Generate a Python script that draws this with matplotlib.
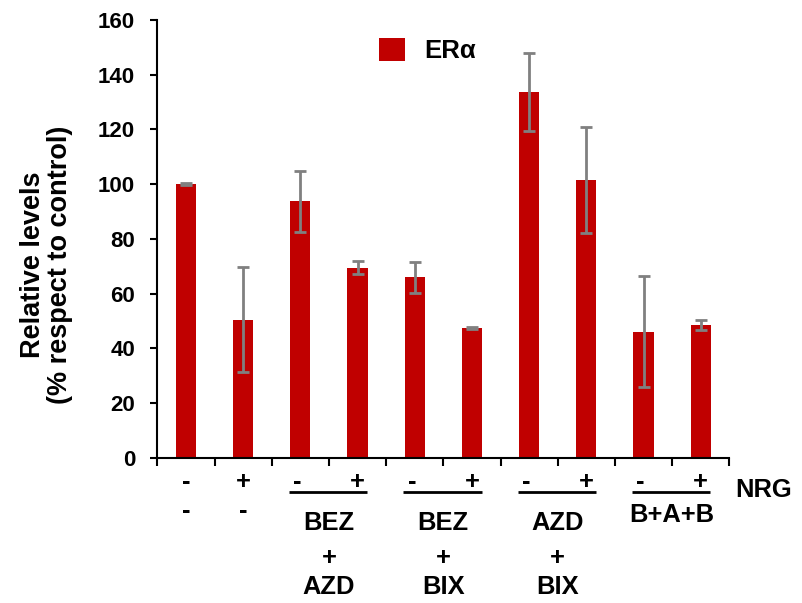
import numpy as np
import matplotlib
matplotlib.use('Agg')
import matplotlib.pyplot as plt
from matplotlib.transforms import blended_transform_factory

plt.rcParams['font.family'] = ['Liberation Sans', 'DejaVu Sans']
plt.rcParams['font.weight'] = 'bold'

# data
values = [100, 50.5, 93.7, 69.5, 66, 47.3, 133.7, 101.5, 46, 48.5]
errors = [0.3, 19.3, 11.2, 2.5, 5.7, 0.4, 14.2, 19.5, 20.3, 1.7]
nrg_signs = ['-', '+', '-', '+', '-', '+', '-', '+', '-', '+']
single_labels = ['-', '-']
groups = [
    (2, 3, ['BEZ', '+', 'AZD']),
    (4, 5, ['BEZ', '+', 'BIX']),
    (6, 7, ['AZD', '+', 'BIX']),
    (8, 9, ['B+A+B']),
]
series_name = 'ER\u03b1'

bar_color = '#C00000'
err_color = '#808080'

W, H = 802, 603
fig = plt.figure(figsize=(W / 100, H / 100), dpi=100)
ax = fig.add_axes([157.3 / W, 1 - 457.7 / H, (729.3 - 157.3) / W, (457.7 - 20) / H])

x = np.arange(len(values)) + 0.5
ax.bar(x, values, width=0.35, color=bar_color, label=series_name, zorder=2)
ax.errorbar(x, values, yerr=errors, fmt='none', ecolor=err_color,
            elinewidth=2, capsize=4.3, capthick=2, zorder=3)

ax.set_xlim(0, 10)
ax.set_ylim(0, 160)
ax.set_yticks(np.arange(0, 161, 20))
ax.set_xticks(np.arange(0, 11, 1))
ax.set_xticklabels([])
for s in ['top', 'right']:
    ax.spines[s].set_visible(False)
for s in ['left', 'bottom']:
    ax.spines[s].set_linewidth(1.5)
ax.tick_params(axis='y', direction='out', length=5, width=1.5, pad=11, labelsize=16)
ax.tick_params(axis='x', direction='out', length=5.5, width=1.5)

fig.text(46.5 / W, 1 - 265 / H, 'Relative levels\n(% respect to control)',
         rotation=90, ha='center', va='center', multialignment='center',
         fontsize=19.5, fontweight='bold', linespacing=1.05)

# labels under the axis: data x, figure y
tr = blended_transform_factory(ax.transData, fig.transFigure)
fs = 18.4

def fy(py):
    return 1 - py / H

for i, (xi, s) in enumerate(zip(x, nrg_signs)):
    shift = -0.05 if (i >= 2 and s == '-') else 0
    ax.text(xi + shift, fy(489), s, transform=tr, ha='center', va='baseline',
            fontsize=fs, fontweight='bold')
for xi, s in zip(x[:2], single_labels):
    ax.text(xi, fy(518), s, transform=tr, ha='center', va='baseline',
            fontsize=fs, fontweight='bold')

for i0, i1, lines in groups:
    xl, xr = x[i0], x[i1]
    ax.plot([xl - 0.2, xr + 0.17], [fy(492.3), fy(492.3)], transform=tr,
            color='black', lw=2, clip_on=False, solid_capstyle='butt')
    xm = (xl + xr) / 2
    if len(lines) == 3:
        bases = [530, 565, 594]
    else:
        bases = [522]
    for txt, b in zip(lines, bases):
        ax.text(xm, fy(b), txt, transform=tr, ha='center', va='baseline',
                fontsize=fs, fontweight='bold')

fig.text(735 / W, fy(497.3), 'NRG', ha='left', va='baseline',
         fontsize=fs, fontweight='bold')

ax.legend(loc='center left', bbox_to_anchor=(379 / W, fy(50.5)),
          bbox_transform=fig.transFigure, frameon=False, fontsize=18.5,
          handlelength=1.0, handleheight=1.0, handletextpad=0.75,
          borderpad=0, borderaxespad=0)

fig.savefig('out.png', dpi=100)
